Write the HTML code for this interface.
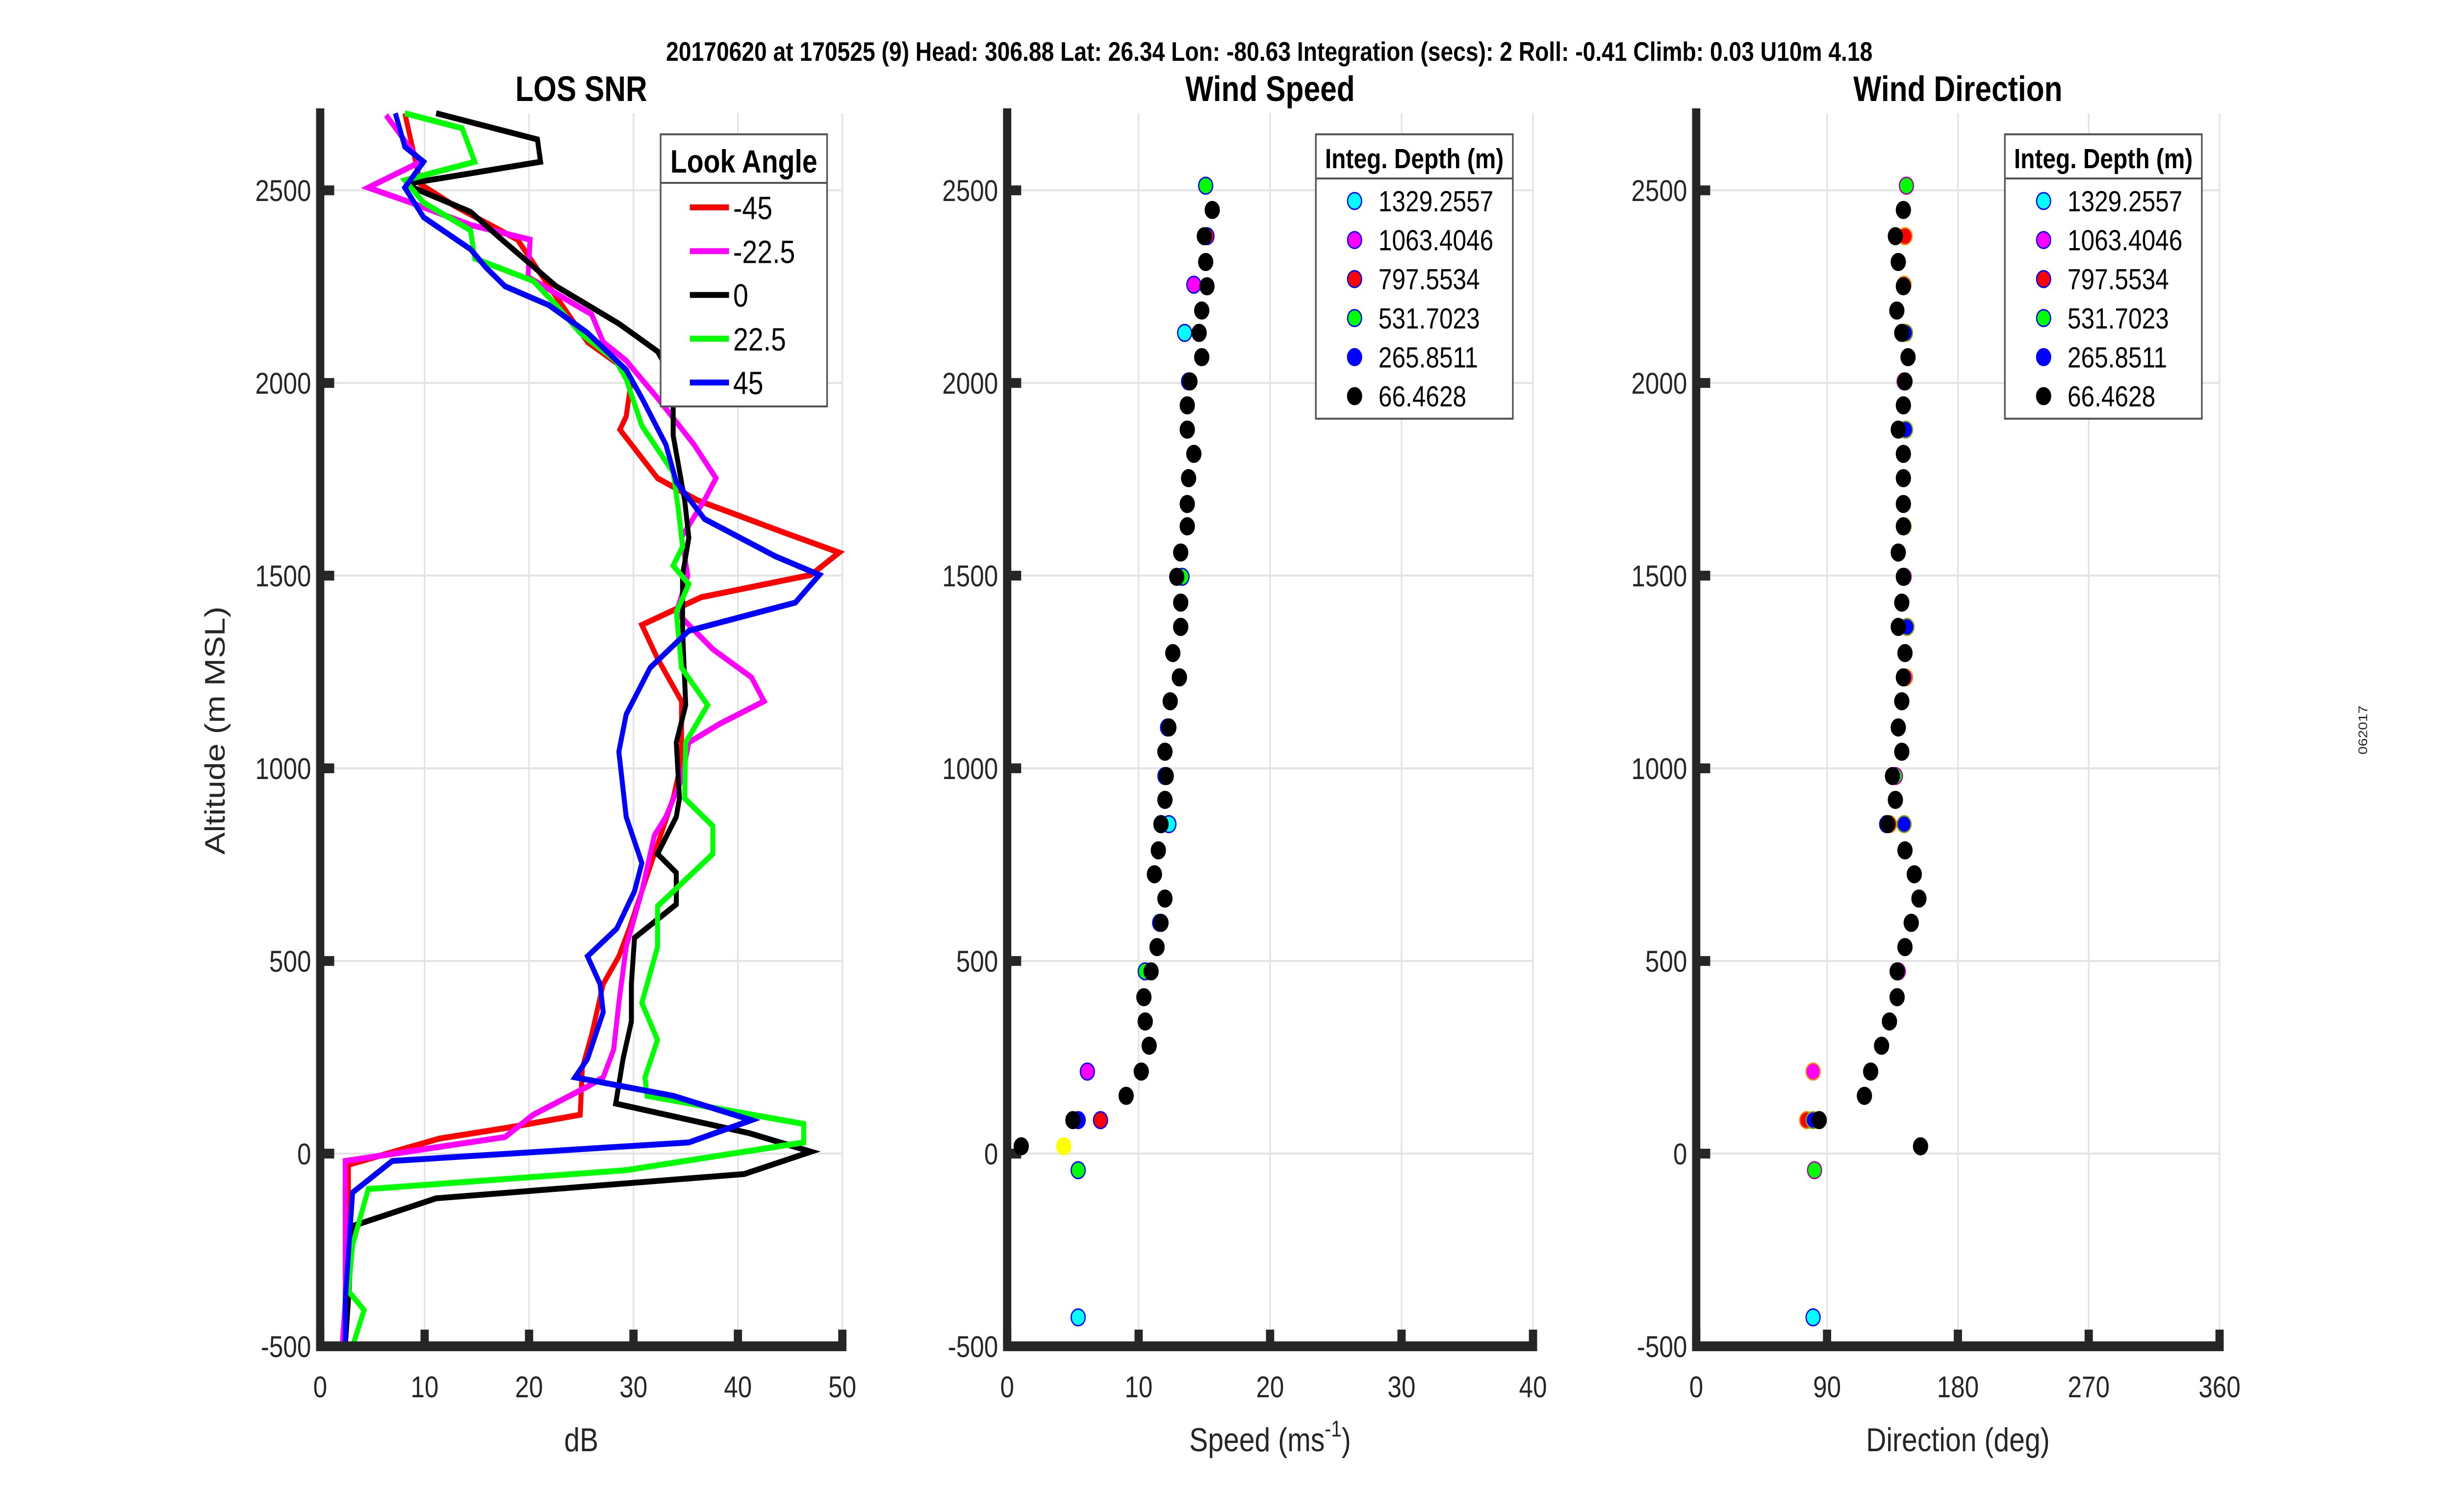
<!DOCTYPE html>
<html><head><meta charset="utf-8"><style>
html,body{margin:0;padding:0;background:#fff;width:100%;height:100%;overflow:hidden;}
svg{display:block;font-family:"Liberation Sans",sans-serif;width:100vw;height:100vh;}
</style></head><body>
<svg id="fig" viewBox="0 0 5950 3084" preserveAspectRatio="none" xmlns="http://www.w3.org/2000/svg">
<rect width="5950" height="3084" fill="#fff"/>
<text x="3080" y="124" font-size="55" font-weight="bold" text-anchor="middle" fill="#000">20170620 at 170525 (9)  Head: 306.88  Lat: 26.34  Lon: -80.63  Integration (secs): 2  Roll: -0.41  Climb: 0.03  U10m 4.18</text>
<text x="0" y="0" font-size="30" fill="#262626" text-anchor="middle" transform="translate(5744,1489) rotate(-90)">062017</text>
<g id="root"></g>
</svg>
<script>
// ---- LOS SNR data (dB vs altitude m) ----
const snrAltM45 = [2700,2555,2516,2459,2372,2251,2106,2034,1990,1913,1879,1753,1696,1613,1560,1502,1444,1372,1285,1174,1019,922,778,584,512,440,309,222,101,68,39,-29,-188,-382,-500];
const snrM45 = [8.1,9.3,9.6,12.9,18.9,21.9,25.6,29.3,29.7,29.3,28.7,32.3,36.1,44.3,49.7,47,36.5,30.8,32.3,34.6,34.6,33.8,32,29.6,28.6,27.1,26,25.1,24.9,18.1,11.4,2.7,2.7,2.7,2.4];
const snrAltM22 = [2695,2574,2507,2468,2410,2372,2275,2178,2106,2058,1961,1840,1753,1696,1600,1500,1405,1309,1236,1174,1116,1067,971,874,826,681,536,391,270,198,174,101,43,-19,-382,-500];
const snrM22 = [6.3,9.6,4.6,8.7,14.4,20.1,19.9,26,27.1,29.3,32.3,35.8,37.9,36.8,34.6,35.2,34.1,37.6,41.3,42.5,38.3,35.3,34.6,33.1,32,30.8,29.3,28.6,28.1,27.1,25.6,20.4,17.7,2.4,2.4,2.1];
const snrAlt0 = [2700,2632,2574,2516,2444,2372,2251,2154,2082,2010,1864,1696,1598,1502,1357,1164,1067,922,874,778,729,647,560,440,343,246,130,53,5,-53,-116,-188,-382,-500];
const snr0 = [11.1,20.8,21.1,8.1,14.4,17.4,22.6,28.6,32.3,33.8,33.8,34.9,35.3,34.7,34.7,35,34.1,34.4,34.1,32.3,34.1,34.1,30.1,29.8,29.8,29,28.3,41.1,47,40.6,11.1,3.1,2.7,2.4];
const snrAltP22 = [2700,2661,2574,2526,2468,2396,2323,2265,2202,2130,2058,2010,1889,1768,1671,1575,1526,1478,1405,1261,1164,1067,922,850,778,642,536,391,295,198,150,77,29,-43,-92,-237,-357,-406,-500];
const snrP22 = [8.1,13.6,14.8,8.1,9.9,14.4,14.8,20.4,22.6,24.9,28.3,29.3,30.8,33.8,34.3,34.7,33.8,35.3,34.1,34.6,37.1,35,34.9,37.6,37.6,32.3,32.3,30.8,32.3,31.1,31.3,46.3,46.3,29.3,4.6,3.1,2.7,4.2,3.1];
const snrAltP45 = [2700,2613,2574,2507,2430,2347,2299,2251,2202,2130,2034,1961,1840,1743,1647,1550,1502,1430,1357,1261,1140,1043,874,754,681,584,512,440,367,246,198,150,87,29,-19,-101,-382,-500];
const snrP45 = [7.2,8.1,9.9,8.1,9.9,14.4,15.9,17.7,21.9,25.6,29.3,30.8,33.1,34.1,36.8,43.6,47.8,45.5,35.3,31.6,29.3,28.6,29.3,30.8,30.1,28.4,25.6,26.8,27.1,25.6,24.4,33.8,41.3,35.3,6.9,3.1,2.4,2.4];
const lookAngles = ["-45","-22.5","0","22.5","45"];
const depthLabels = ["1329.2557","1063.4046","797.5534","531.7023","265.8511","66.4628"];
// ---- Wind speed (m/s) / direction (deg) at altitude, 66.4628 m series ----
const windAlt = [2449,2381,2314,2251,2188,2130,2067,2004,1942,1879,1816,1753,1686,1628,1560,1497,1430,1367,1299,1236,1174,1106,1043,980,918,855,787,725,662,599,536,473,406,343,280,213,150,87,19];
const windSpd = [15.6,15,15.1,15.2,14.8,14.6,14.8,13.9,13.7,13.7,14.2,13.8,13.7,13.7,13.2,12.9,13.2,13.2,12.6,13.1,12.4,12.3,12,12.1,12,11.7,11.5,11.2,12,11.7,11.4,10.95,10.4,10.5,10.8,10.2,9.05,5,1.07];
const windDir = [142.5,137,139,142.5,138,141.4,145.7,143.6,142.5,139,142.5,142.5,142.5,142.5,139,142.5,141.4,139,143.6,142.5,141.4,139,141.4,135,137,131.8,143.6,150,153.2,147.9,143.6,138.2,138.2,132.9,127.5,120,115.7,84.6,154.3];
const cyanAlt = [2130,855,-425]; const cyanSpd = [13.5,12.3,5.4]; const cyanDir = [143,131,80.4];
const magAlt = [2255,1236,213]; const magSpd = [14.2,13.1,6.1]; const magDir = [143,144,80.4];
const redAlt = [2381,855,87]; const redSpd = [15.2,11.7,7.1]; const redDir = [143.6,133,76];
const grnAlt = [2512,2004,1497,980,473,-43]; const grnSpd = [15.1,13.8,13.3,12,10.5,5.4]; const grnDir = [144.6,143,143,137,139,81.4];
const bluAlt = [2130,1879,1628,1367,1106,855,599,343,87]; const bluSpd = [14.6,13.7,13.7,13.2,12.2,11.7,11.6,10.5,5.4]; const bluDir = [144,144,143,145,139,143,147.9,133,80.4];
const yelAlt = [19]; const yelSpd = [4.3];
const yTicks = [-500,0,500,1000,1500,2000,2500];
const snrTicks = [0,10,20,30,40,50];
const spdTicks = [0,10,20,30,40];
const dirTicks = [0,90,180,270,360];

const NS="http://www.w3.org/2000/svg";
const root=document.getElementById('root');
function mk(tag,attrs,parent){const e=document.createElementNS(NS,tag);for(const k in attrs)e.setAttribute(k,attrs[k]);(parent||root).appendChild(e);return e;}
const Y0=2746,Y1=231,A0=-500,A1=2700;
function yS(a){return Y0+(a-A0)/(A1-A0)*(Y1-Y0);}
function xScale(x0,x1,v0,v1){return v=>x0+(v-v0)/(v1-v0)*(x1-x0);}

function axes(name,x0,x1,xs,ticks,title,xlabel,sup){
  const g=mk('g',{});
  
  
  ticks.forEach(t=>{const l=mk('line',{x1:xs(t),x2:xs(t),y1:Y1,y2:Y0,stroke:'#e3e3e3','stroke-width':4},g);});
  yTicks.forEach(t=>{const l=mk('line',{x1:x0,x2:x1,y1:yS(t),y2:yS(t),stroke:'#e3e3e3','stroke-width':4},g);});
  const tg=mk('text',{x:(x0+x1)/2,y:206,'font-size':72,'font-weight':'bold','text-anchor':'middle',fill:'#000'},g);tg.textContent=title;
  
  const xl=mk('text',{x:(x0+x1)/2,y:2960,'font-size':68,'text-anchor':'middle',fill:'#262626'},g);
  
  if(sup){xl.textContent='Speed (ms';const ts=mk('tspan',{'font-size':46,dy:-30},xl);ts.textContent='-1';const t2=mk('tspan',{'font-size':68,dy:30},xl);t2.textContent=')';}
  else xl.textContent=xlabel;
  ticks.forEach(t=>{const tl=mk('text',{x:xs(t),y:2850,'font-size':61,'text-anchor':'middle',fill:'#262626'},g);tl.textContent=t;
    mk('line',{x1:xs(t),x2:xs(t),y1:Y0,y2:Y0-34,stroke:'#262626','stroke-width':20},g);});
  yTicks.forEach(t=>{const tl=mk('text',{x:x0-22,y:yS(t)+22,'font-size':61,'text-anchor':'end',fill:'#262626'},g);tl.textContent=t;
    mk('line',{x1:x0,x2:x0+34,y1:yS(t),y2:yS(t),stroke:'#262626','stroke-width':20},g);});
  return g;
}
function spines(x0,x1){
  const s=mk('path',{d:`M${x0},${Y1} L${x0},${Y0} L${x1},${Y0}`,fill:'none',stroke:'#262626','stroke-width':20,'stroke-linecap':'square'});
  
}
const xs1=xScale(777,2044,0,50);
axes('los-snr',777,2044,xs1,snrTicks,'LOS SNR','dB');
const yl=mk('text',{x:0,y:0,'font-size':68,'text-anchor':'middle',fill:'#262626',transform:'translate(545,1490) rotate(-90)'});
yl.textContent='Altitude (m MSL)';
const snrSeries=[[snrAltM45,snrM45,'#ff0000'],[snrAltM22,snrM22,'#ff00ff'],[snrAlt0,snr0,'#000000'],[snrAltP22,snrP22,'#00ff00'],[snrAltP45,snrP45,'#0000ff']];
snrSeries.forEach((s,i)=>{const d=s[0].map((a,j)=>(j?'L':'M')+xs1(s[1][j]).toFixed(1)+','+yS(a).toFixed(1)).join(' ');
  const p=mk('path',{d:d,fill:'none',stroke:s[2],'stroke-width':12,'stroke-linejoin':'miter'});
  });
spines(777,2044);
const lg=mk('g',{});
mk('rect',{x:1603,y:274,width:404,height:555,fill:'#fff',stroke:'#555','stroke-width':4},lg);
mk('line',{x1:1603,x2:2007,y1:373,y2:373,stroke:'#555','stroke-width':4},lg);
const lt=mk('text',{x:1805,y:352,'font-size':66,'font-weight':'bold','text-anchor':'middle',fill:'#000'},lg);lt.textContent='Look Angle';
snrSeries.forEach((s,i)=>{const yy=423+i*89.3;mk('line',{x1:1674,x2:1769,y1:yy,y2:yy,stroke:s[2],'stroke-width':12},lg);
  const t=mk('text',{x:1779,y:yy+24,'font-size':66,fill:'#000'},lg);t.textContent=lookAngles[i];
  });

function scatter(name,xs,vals,alts,color,edge){
  vals.forEach((v,j)=>{const c=mk('circle',{cx:xs(v),cy:yS(alts[j]),r:17,fill:color,stroke:edge,'stroke-width':3});
    });
}
const xs2=xScale(2444,3720,0,40);
axes('wind-speed',2444,3720,xs2,spdTicks,'Wind Speed','',true);
scatter('cyan',xs2,cyanSpd,cyanAlt,'#00ffff','#0000ff');
scatter('magenta',xs2,magSpd,magAlt,'#ff00ff','#0000ff');
scatter('red',xs2,redSpd,redAlt,'#ff0000','#0000ff');
scatter('green',xs2,grnSpd,grnAlt,'#00ff00','#0000ff');
scatter('blue',xs2,bluSpd,bluAlt,'#0000ff','#0000ff');
scatter('black',xs2,windSpd,windAlt,'#000000','#000000');
scatter('yellow',xs2,yelSpd,yelAlt,'#ffff00','#ffff00');
spines(2444,3720);
const xs3=xScale(4116,5386,0,360);
axes('wind-direction',4116,5386,xs3,dirTicks,'Wind Direction','Direction (deg)');
scatter('cyan',xs3,cyanDir,cyanAlt,'#00ffff','#0000ff');
scatter('magenta',xs3,magDir,magAlt,'#ff00ff','#ff8800');
scatter('red',xs3,redDir,redAlt,'#ff0000','#ff8800');
scatter('green',xs3,grnDir,grnAlt,'#00ff00','#aa00aa');
scatter('blue',xs3,bluDir,bluAlt,'#0000ff','#88aa00');
scatter('black',xs3,windDir,windAlt,'#000000','#000000');
spines(4116,5386);
const depthColors=['#00ffff','#ff00ff','#ff0000','#00ff00','#0000ff','#000000'];
[0,1672].forEach((off,k)=>{
  const g=mk('g',{});
  mk('rect',{x:3193+off,y:274,width:478,height:580,fill:'#fff',stroke:'#555','stroke-width':4},g);
  mk('line',{x1:3193+off,x2:3671+off,y1:364,y2:364,stroke:'#555','stroke-width':4},g);
  const t=mk('text',{x:3432+off,y:343,'font-size':57,'font-weight':'bold','text-anchor':'middle',fill:'#000'},g);t.textContent='Integ. Depth (m)';
  depthLabels.forEach((lab,i)=>{const yy=410+i*79.6;
    mk('circle',{cx:3287+off,cy:yy,r:17,fill:depthColors[i],stroke:i<4?'#0000ff':depthColors[i],'stroke-width':3},g);
    const tx=mk('text',{x:3345+off,y:yy+21,'font-size':59,fill:'#000'},g);tx.textContent=lab;
    });
});
</script>
</body></html>
